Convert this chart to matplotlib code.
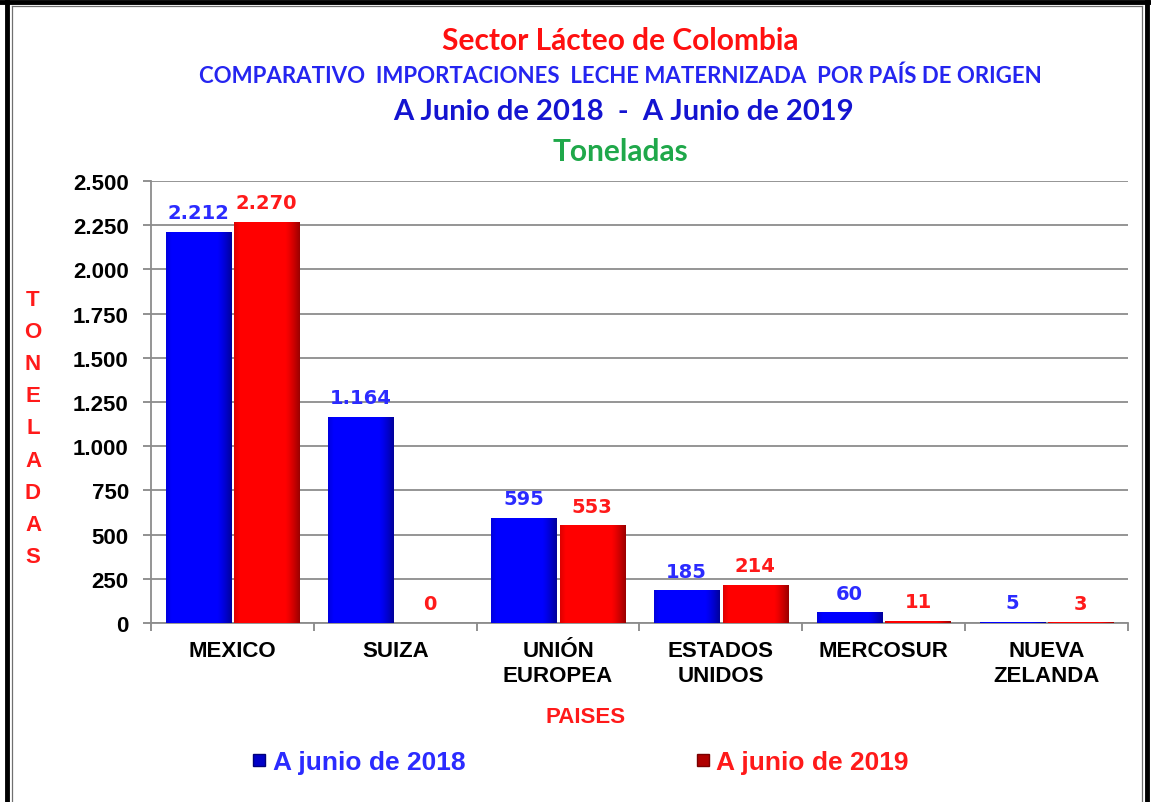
import numpy as np
import matplotlib
matplotlib.use("Agg")
import matplotlib.pyplot as plt
from matplotlib.lines import Line2D
from matplotlib.ticker import FuncFormatter, MultipleLocator, FixedLocator
from matplotlib.colors import to_rgb

# ---------------- data ----------------
categories = ["MEXICO", "SUIZA", "UNIÓN\nEUROPEA", "ESTADOS\nUNIDOS", "MERCOSUR", "NUEVA\nZELANDA"]
series_names = ["A junio de 2018", "A junio de 2019"]
values_2018 = [2212, 1164, 595, 185, 60, 5]
values_2019 = [2270, 0, 553, 214, 11, 3]

title_1 = "Sector Lácteo de Colombia"
title_2 = "COMPARATIVO  IMPORTACIONES  LECHE MATERNIZADA  POR PAÍS DE ORIGEN"
title_3 = "A Junio de 2018  -  A Junio de 2019"
title_4 = "Toneladas"
y_label = "TONELADAS"
x_label = "PAISES"

# ---------------- style ----------------
W, H = 1151, 803
fig = plt.figure(figsize=(W / 100, H / 100), dpi=100)
fig.patch.set_facecolor("white")

ax = fig.add_axes([151 / W, 1 - 624 / H, (1128 - 151) / W, (624 - 182) / H])

bar_colors = ["#0000FF", "#FF0000"]
bar_dark = ["#00007A", "#7A0000"]
label_colors = ["#2B2BFF", "#FF1A1A"]
width = 0.4
offsets = [-0.21, 0.21]
x = np.arange(len(categories))


def fmt_thousands(v, pos=None):
    return f"{int(round(v)):,}".replace(",", ".")


def shade_bar(rect, base, dark):
    x0, y0 = rect.get_x(), rect.get_y()
    w, h = rect.get_width(), rect.get_height()
    if h <= 0:
        return
    nx = 80
    u = np.linspace(0, 1, nx)
    t = np.clip((u - 0.78) / 0.22, 0, 1) ** 1.3 * 0.75 + np.clip((0.08 - u) / 0.08, 0, 1) * 0.25
    b = np.array(to_rgb(base))
    d = np.array(to_rgb(dark))
    row = b[None, :] * (1 - t[:, None]) + d[None, :] * t[:, None]
    img = np.repeat(row[None, :, :], 2, axis=0)
    im = ax.imshow(img, extent=(x0, x0 + w, y0, y0 + h), origin="lower",
                   aspect="auto", zorder=rect.get_zorder() + 0.1, interpolation="bilinear")
    im.set_clip_path(rect)


for i, vals in enumerate([values_2018, values_2019]):
    bars = ax.bar(x + offsets[i], vals, width, color=bar_colors[i], linewidth=0, zorder=3)
    for rect in bars:
        shade_bar(rect, bar_colors[i], bar_dark[i])
    for xi, v in zip(x + offsets[i], vals):
        ax.annotate(fmt_thousands(v), (xi, v), xytext=(0, 7), textcoords="offset points",
                    ha="center", va="bottom", fontsize=14, fontweight="bold",
                    color=label_colors[i], family="DejaVu Sans", zorder=5)

ax.set_xlim(-0.5, len(categories) - 0.5)
ax.set_ylim(0, 2500)

ax.yaxis.set_major_locator(MultipleLocator(250))
ax.yaxis.set_major_formatter(FuncFormatter(fmt_thousands))
ax.set_xticks(x)
ax.set_xticklabels(categories, fontsize=16, fontweight="bold", family="Liberation Sans",
                   linespacing=1.25)
ax.xaxis.set_minor_locator(FixedLocator(np.arange(-0.5, len(categories), 1.0)))
ax.tick_params(axis="x", which="major", length=0, pad=12)
ax.tick_params(axis="x", which="minor", length=6, width=1.3, color="#888888", direction="out")
ax.tick_params(axis="y", which="major", length=6, width=1.3, color="#888888", pad=10,
               labelsize=16)
for lab in ax.get_yticklabels():
    lab.set_fontweight("bold")
    lab.set_family("Liberation Sans")

ax.grid(axis="y", color="#8C8C8C", linewidth=1.3, zorder=0)
ax.set_axisbelow(True)
for s in ["top", "right"]:
    ax.spines[s].set_visible(False)
for s in ["left", "bottom"]:
    ax.spines[s].set_color("#8C8C8C")
    ax.spines[s].set_linewidth(1.3)

# ---------------- titles ----------------
cx = 620 / W
fig.text(cx, 1 - 41 / H, title_1, ha="center", va="center", fontsize=21.5, fontweight="bold",
         color="#FF1010", family="Lato")
fig.text(cx, 1 - 76 / H, title_2, ha="center", va="center", fontsize=16, fontweight="bold",
         color="#2525F0", family="Lato")
fig.text(623 / W, 1 - 112 / H, title_3, ha="center", va="center", fontsize=21, fontweight="bold",
         color="#1414D0", family="Lato")
fig.text(cx, 1 - 152 / H, title_4, ha="center", va="center", fontsize=21.5, fontweight="bold",
         color="#1FA84A", family="Lato")

# vertical stacked y label
fig.text(33 / W, 1 - 429 / H, "\n".join(y_label), ha="center", va="center", fontsize=16,
         fontweight="bold", color="#FF1A1A", family="Liberation Sans", linespacing=1.70)

fig.text(586 / W, 1 - 718 / H, x_label, ha="center", va="center", fontsize=16,
         fontweight="bold", color="#FF1A1A", family="Liberation Sans")

# ---------------- legend ----------------
handles = [Line2D([], [], linestyle="none", marker="s", markersize=9,
                  markerfacecolor=c, markeredgecolor=d)
           for c, d in zip(["#0000C8", "#B00000"], bar_dark)]
leg = fig.legend(handles, series_names, loc="center", bbox_to_anchor=(580 / W, 1 - 763 / H),
                 ncol=2, frameon=False, handlelength=0.6, handletextpad=0.2,
                 columnspacing=8.7, prop={"family": "Liberation Sans", "weight": "bold",
                                          "size": 19})
for t, c in zip(leg.get_texts(), label_colors):
    t.set_color(c)

# ---------------- frame ----------------
def fig_line(xs, ys, **kw):
    fig.add_artist(Line2D([v / W for v in xs], [1 - v / H for v in ys],
                          transform=fig.transFigure, **kw))

fig_line([7, 7], [0, H + 5], color="black", linewidth=3.5)
fig_line([0, W], [2.5, 2.5], color="black", linewidth=3.5)
fig_line([1147, 1147], [0, H + 5], color="black", linewidth=3.5)
fig_line([12, 12], [7, H + 5], color="#707070", linewidth=0.9)
fig_line([12, 1142], [7, 7], color="#707070", linewidth=0.9)
fig_line([1142, 1142], [7, H + 5], color="#707070", linewidth=0.9)

fig.savefig("out.png", dpi=100)
